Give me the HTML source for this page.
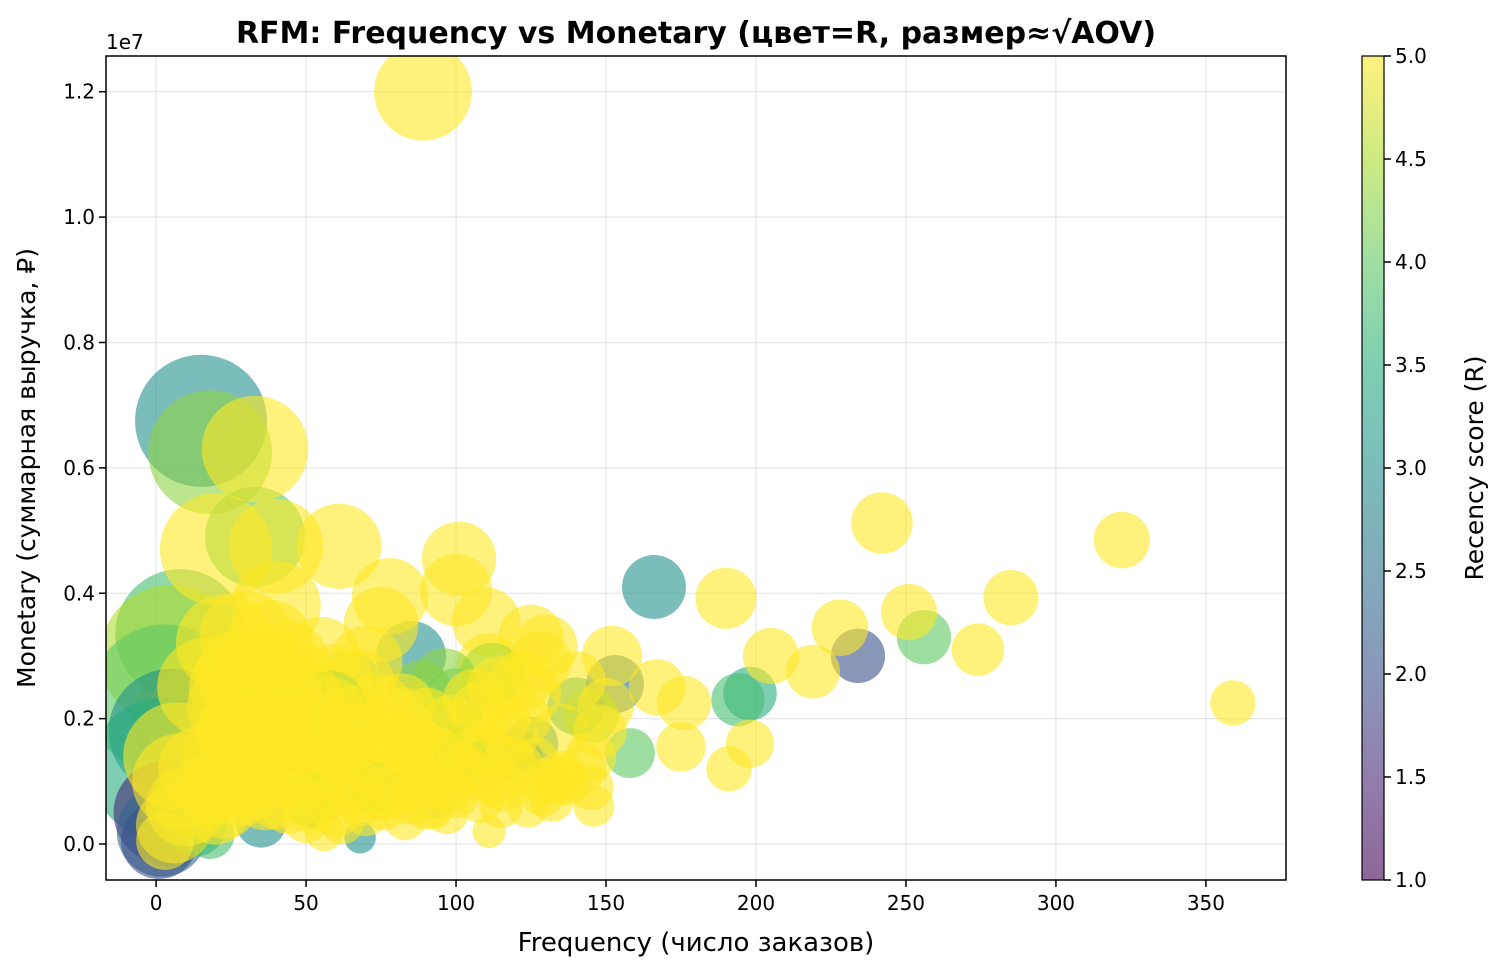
<!DOCTYPE html>
<html><head><meta charset="utf-8"><style>
body{margin:0;background:#fff;}
svg text{font-family:"DejaVu Sans","Liberation Sans",sans-serif;}
</style></head><body>
<svg id="chart" width="1508" height="974" xmlns="http://www.w3.org/2000/svg">
<defs>
<clipPath id="plotclip"><rect x="106" y="56" width="1180" height="824"/></clipPath>
<linearGradient id="cbgrad" x1="0" y1="1" x2="0" y2="0">
<stop offset="0" stop-color="#440154"/><stop offset="0.125" stop-color="#482878"/><stop offset="0.25" stop-color="#3b528b"/><stop offset="0.375" stop-color="#2c728e"/><stop offset="0.5" stop-color="#21918c"/><stop offset="0.625" stop-color="#28ae80"/><stop offset="0.75" stop-color="#5ec962"/><stop offset="0.875" stop-color="#addc30"/><stop offset="1" stop-color="#fde725"/>
</linearGradient>
</defs>
<g id="grid"></g>
<g id="points" clip-path="url(#plotclip)"></g>
<rect x="106" y="56" width="1180" height="824" fill="none" stroke="#000" stroke-width="1.5"/>
<g id="axes"></g>
<text x="696" y="43" text-anchor="middle" font-size="30" font-weight="bold">RFM: Frequency vs Monetary (цвет=R, размер≈√AOV)</text>
<text x="696" y="951" text-anchor="middle" font-size="26">Frequency (число заказов)</text>
<text transform="translate(35,468) rotate(-90)" text-anchor="middle" font-size="25">Monetary (суммарная выручка, ₽)</text>
<text x="106" y="49" font-size="20">1e7</text>
<rect x="1362" y="56" width="22" height="824" fill="url(#cbgrad)" opacity="0.6"/>
<rect x="1362" y="56" width="22" height="824" fill="none" stroke="#000" stroke-width="1.2"/>
<g id="cbaxis"></g>
<text transform="translate(1483,468) rotate(-90)" text-anchor="middle" font-size="25">Recency score (R)</text>
</svg>
<script>
const freq=[15,18,33,8,5,3,10,13,5,2,3,2,5,1,13,12,30,45,47,57,68,35,18,85,64,88,120,125,140,153,166,198,194,256,234,158,108,93,40,36,100,
89,33,40,20,61,101,100,78,110,190,242,322,285,251,228,274,219,205,198,191,359,175,176,167,146,152,145,130,125,122,111,111,115,92,98,60,70,30,23,40,8,25,50,56,76,80,40,20,
45,55,65,75,85,95,105,115,125,135,145,135,130,118,102,90,70,60,50,48,55,38,28,25,35,32,22,15,10,6,3,74,82,100,112,140,150,148,128,66,58,88,96,108,42,52,62,72,83,97,44,27,17,7,23,75,68,
30,38,46,54,62,70,78,86,94,102,110,118,126,134,142,33,41,49,57,65,73,81,89,97,105,113,121,129,137,145,28,36,44,52,60,68,76,84,92,100,108,116,124,132,20,26,34,42,50,58,66,74,82,90,98,106,114,122];
const monetary=[6.75,6.25,4.9,3.35,3.0,2.3,2.0,2.0,1.8,1.2,0.5,0.2,0.1,0.05,0.3,0.7,1.3,1.75,1.7,0.85,0.1,0.35,0.15,3.0,2.5,2.4,1.4,1.6,2.2,2.55,4.1,2.4,2.3,3.3,3.0,1.45,1.25,0.8,2.65,1.8,1.6,
12.0,6.3,4.75,4.7,4.75,4.55,4.05,3.95,3.55,3.92,5.12,4.85,3.93,3.7,3.45,3.1,2.75,3.0,1.6,1.2,2.25,1.55,2.25,2.5,0.6,3.0,2.05,3.15,3.3,2.0,0.2,2.85,0.6,1.55,1.3,2.6,2.9,3.3,3.2,3.8,1.0,1.0,1.05,0.2,0.8,1.1,0.7,0.5,
2.0,1.5,1.8,1.3,1.6,1.0,1.7,2.0,2.4,1.8,1.4,1.1,1.0,1.3,1.45,0.6,0.5,0.9,0.4,2.6,3.0,3.2,2.7,2.2,1.5,0.9,1.4,1.2,0.6,0.3,0.05,2.2,2.0,2.3,2.7,2.6,2.2,1.8,2.9,1.2,2.2,1.2,2.6,2.1,1.1,0.7,0.35,0.9,0.4,0.5,2.9,1.8,2.5,1.4,0.6,3.5,2.55,
2.2,2.0,1.7,1.9,1.5,1.3,1.6,1.1,1.4,1.2,1.5,1.7,1.3,1.0,1.2,1.6,1.3,1.0,1.2,1.0,0.8,0.9,1.0,0.9,1.1,1.0,1.2,0.8,1.0,0.9,0.8,0.7,0.6,0.6,0.5,0.7,0.6,0.7,0.6,0.8,0.7,0.9,0.6,0.7,0.9,2.5,2.8,2.4,2.3,2.1,2.0,1.8,2.2,2.0,1.9,2.3,2.5,2.6];
const recency=[3,4.3,4,3.8,4.5,4,4.3,4.5,3,3.5,1.5,2.3,3,2,3.5,4,2.8,3,3.5,4,3,3,3.8,3,3.5,4.3,3.2,3,3.5,2.5,3,3.5,3.8,4,2,4,4,3,4.5,3.3,4.3,
5,5,5,5,5,5,5,5,5,5,5,5,5,5,5,5,5,5,5,5,5,5,5,5,5,5,4.3,5,5,5,5,5,5,5,5,5,5,5,5,5,5,5,5,5,5,5,5,5,
5,5,5,5,5,5,5,5,5,5,5,5,5,5,4.5,5,5,5,5,5,5,5,5,5,5,5,5,5,5,5,5,5,5,4,4.5,5,5,5,5,5,4,5,4.3,5,5,4.5,5,4,5,5,5,5,5,5,5,5,5,
5,5,5,5,5,5,5,5,5,5,5,5,5,5,5,5,5,5,5,5,5,5,5,5,5,5,5,5,5,5,5,5,5,5,5,5,5,5,5,5,5,5,5,5,5,5,5,5,5,5,5,5,5,5,5,5,5,5];
const xTicks=[0,50,100,150,200,250,300,350];
const yTicks=[0,0.2,0.4,0.6,0.8,1.0,1.2];
const cbTicks=[1.0,1.5,2.0,2.5,3.0,3.5,4.0,4.5,5.0];

const NS="http://www.w3.org/2000/svg";
const X0=106,X1=1286,Y0=56,Y1=880;
const xMin=-16.7,xMax=376.7,yMin=-0.574,yMax=12.57;
const xs=v=>X0+(v-xMin)/(xMax-xMin)*(X1-X0);
const ys=v=>Y1-(v-yMin)/(yMax-yMin)*(Y1-Y0);
const cs=v=>880-(v-1)/4*824;
function mk(tag,attrs,parent){const e=document.createElementNS(NS,tag);for(const k in attrs)e.setAttribute(k,attrs[k]);parent.appendChild(e);return e;}
const vir=[[68,1,84],[72,40,120],[59,82,139],[44,114,142],[33,145,140],[40,174,128],[94,201,98],[173,220,48],[253,231,37]];
function viridis(t){t=Math.max(0,Math.min(1,t))*8;const i=Math.min(7,Math.floor(t)),f=t-i;const a=vir[i],b=vir[i+1];return `rgb(${a.map((c,k)=>Math.round(c+(b[k]-c)*f)).join(',')})`;}

const grid=document.getElementById('grid'),axes=document.getElementById('axes'),pts=document.getElementById('points'),cb=document.getElementById('cbaxis');
xTicks.forEach(t=>{const x=xs(t);
 const g=mk('line',{x1:x,x2:x,y1:Y0,y2:Y1,stroke:'#b0b0b0','stroke-opacity':0.3,'stroke-width':1.2},grid);
 
 const tk=mk('line',{x1:x,x2:x,y1:Y1,y2:Y1+7,stroke:'#000','stroke-width':1.5},axes);
 
 const tx=mk('text',{x:x,y:Y1+30,'text-anchor':'middle','font-size':20},axes);tx.textContent=t;
 });
yTicks.forEach(t=>{const y=ys(t*10);
 const g=mk('line',{x1:X0,x2:X1,y1:y,y2:y,stroke:'#b0b0b0','stroke-opacity':0.3,'stroke-width':1.2},grid);
 
 const tk=mk('line',{x1:X0-7,x2:X0,y1:y,y2:y,stroke:'#000','stroke-width':1.5},axes);
 
 const tx=mk('text',{x:X0-11,y:y+7,'text-anchor':'end','font-size':20},axes);tx.textContent=t.toFixed(1);
 });
cbTicks.forEach(t=>{const y=cs(t);
 const tk=mk('line',{x1:1384,x2:1391,y1:y,y2:y,stroke:'#000','stroke-width':1.5},cb);
 
 const tx=mk('text',{x:1395,y:y+7,'font-size':20},cb);tx.textContent=t.toFixed(1);
 });
freq.forEach((f,i)=>{const m=monetary[i];const aov=m*1e6/Math.max(1,f);
 const r=Math.min(80,2.55*Math.pow(aov,0.25));
 const c=mk('circle',{cx:xs(f),cy:ys(m),r:r,fill:viridis((recency[i]-1)/4),'fill-opacity':0.6},pts);
 });
</script>
</body></html>
